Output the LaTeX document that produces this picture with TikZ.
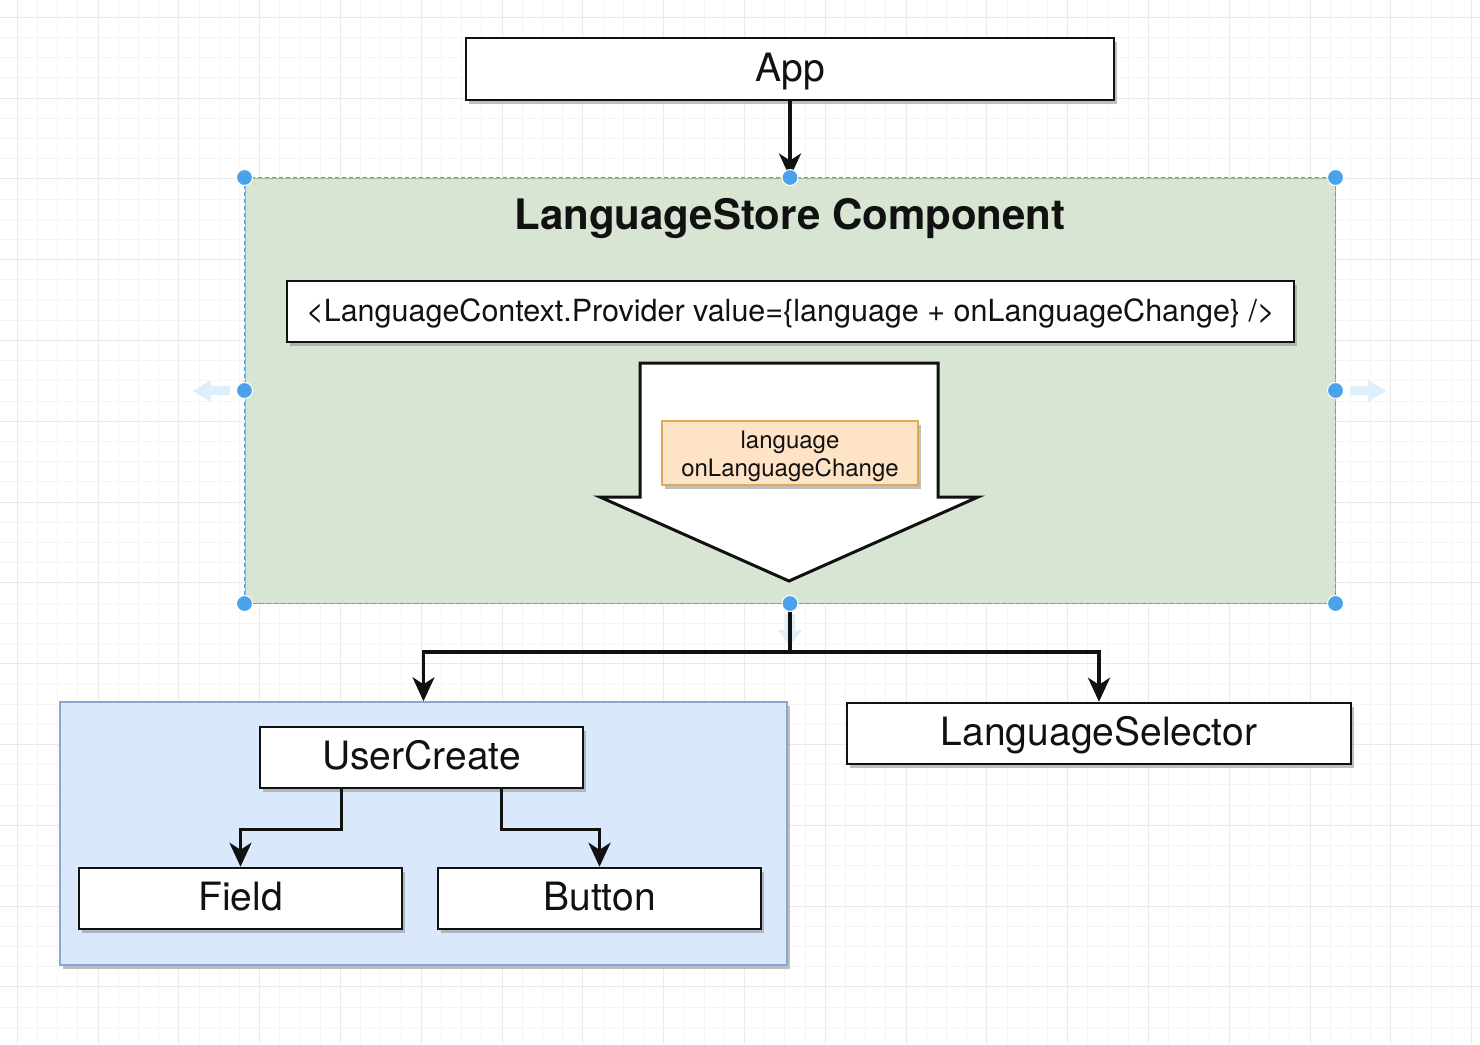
\documentclass[tikz,border=0pt]{standalone}
\usepackage{fontspec}
\setmainfont{TeX Gyre Heros}
\usetikzlibrary{arrows.meta,shadows}
\definecolor{gridminor}{HTML}{F5F5F5}
\definecolor{gridmajor}{HTML}{EAEAEA}
\definecolor{greenfill}{HTML}{D7E5D2}
\definecolor{greenline}{HTML}{9DBB85}
\definecolor{bluefill}{HTML}{DAE8FC}
\definecolor{blueline}{HTML}{8CA6D3}
\definecolor{orangefill}{HTML}{FFE3C6}
\definecolor{orangeline}{HTML}{DDAA55}
\definecolor{selblue}{HTML}{4AA2EB}
\definecolor{hintblue}{HTML}{DDEFFB}
\definecolor{ink}{HTML}{111111}
\tikzset{
  shad/.style={drop shadow={shadow xshift=3pt,shadow yshift=-4pt,fill=black!45,opacity=0.55}},
  wbox/.style={draw=ink,line width=2.5pt,fill=white,inner sep=0pt,shad,text=ink,
    font=\fontsize{39}{45}\selectfont,text height=28pt,text depth=4pt},
  conn/.style={draw=ink,line width=3.5pt,-{Stealth[length=24pt,width=22pt,inset=7pt]}},
  handle/.style={circle,fill=selblue,draw=white,line width=1pt,minimum size=16pt,inner sep=0pt},
}
\begin{document}
\begin{tikzpicture}[x=1pt,y=-1pt]
\useasboundingbox (0,0) rectangle (1480,1044);
\fill[white] (0,0) rectangle (1480,1044);
% grid
\foreach \i in {0,...,73} {
  \draw[gridminor,line width=1pt] ({17.2+20.2*\i},0) -- ({17.2+20.2*\i},1044);
}
\foreach \i in {0,...,51} {
  \draw[gridminor,line width=1pt] (0,{17.2+20.2*\i}) -- (1480,{17.2+20.2*\i});
}
\foreach \i in {0,...,18} {
  \draw[gridmajor,line width=1pt] ({17.2+80.8*\i},0) -- ({17.2+80.8*\i},1044);
}
\foreach \i in {0,...,12} {
  \draw[gridmajor,line width=1pt] (0,{17.2+80.8*\i}) -- (1480,{17.2+80.8*\i});
}

% hint arrows (faint)
\fill[hintblue] (230,386) -- (211,386) -- (211,380) -- (193,391) -- (211,402) -- (211,395) -- (230,395) -- cycle;
\fill[hintblue] (1350,386) -- (1368,386) -- (1368,380) -- (1386,391) -- (1368,402) -- (1368,395) -- (1350,395) -- cycle;
\fill[hintblue] (785,614) -- (785,630) -- (778,630) -- (790,646) -- (802,630) -- (795,630) -- (795,614) -- cycle;

% App
\node[wbox,minimum width=648pt,minimum height=62pt] (app) at (790,69) {App};

% LanguageStore group
\node[fill=greenfill,draw=greenline,line width=1pt,minimum width=1090pt,minimum height=425pt,inner sep=0pt] (green) at (790,390.5) {};
\draw[selblue,line width=1.6pt,dash pattern=on 4pt off 3pt] (green.north west) rectangle (green.south east);
\node[font=\fontsize{42}{48}\selectfont\bfseries,text=ink,text height=30pt,text depth=0pt,inner sep=0pt] (title) at (790,214.5) {LanguageStore Component};

\node[wbox,minimum width=1007pt,minimum height=61pt,font=\fontsize{30.5}{36}\selectfont,text height=22pt,text depth=3pt] (prov) at (790.5,311.5)
  {<LanguageContext.Provider value=\{language + onLanguageChange\} />};

% big down arrow
\draw[ink,line width=3pt,fill=white,line join=miter] (640,363) -- (938,363) -- (938,497) -- (978,497) -- (789,581) -- (600,497) -- (640,497) -- cycle;
\node[fill=orangefill,draw=orangeline,line width=1.2pt,minimum width=256pt,minimum height=64pt,inner sep=0pt,
  shad] (ctx) at (790,453) {};
\node[align=center,text=ink,font=\fontsize{24}{28}\selectfont] (ctxtext) at (790,456) {language\\onLanguageChange};

% lower part
\node[fill=bluefill,draw=blueline,line width=1.5pt,minimum width=727pt,minimum height=263pt,inner sep=0pt,shad] (blue) at (423.5,833.5) {};
\node[wbox,minimum width=323pt,minimum height=61pt] (uc) at (421.5,757.5) {UserCreate};
\node[wbox,minimum width=323pt,minimum height=61pt] (field) at (240.5,898.5) {Field};
\node[wbox,minimum width=323pt,minimum height=61pt] (button) at (599.5,898.5) {Button};
\node[wbox,minimum width=504pt,minimum height=61pt] (sel) at (1099,733.5) {LanguageSelector};

\coordinate (split) at (790,652);
\draw[conn] (app.south) -- (green.north);
\draw[draw=ink,line width=3.5pt] (green.south) -- (split);
\draw[conn] (split) -| (blue.north);
\draw[conn] (split) -| (sel.north);
\draw[conn] ([xshift=-80pt]uc.south) -- ++(0,40) -| (field.north);
\draw[conn] ([xshift=80pt]uc.south) -- ++(0,40) -| (button.north);

% selection handles
\foreach \p in {north west,north,north east,west,east,south west,south,south east}
  \node[handle] at (green.\p) {};
\end{tikzpicture}
\end{document}
